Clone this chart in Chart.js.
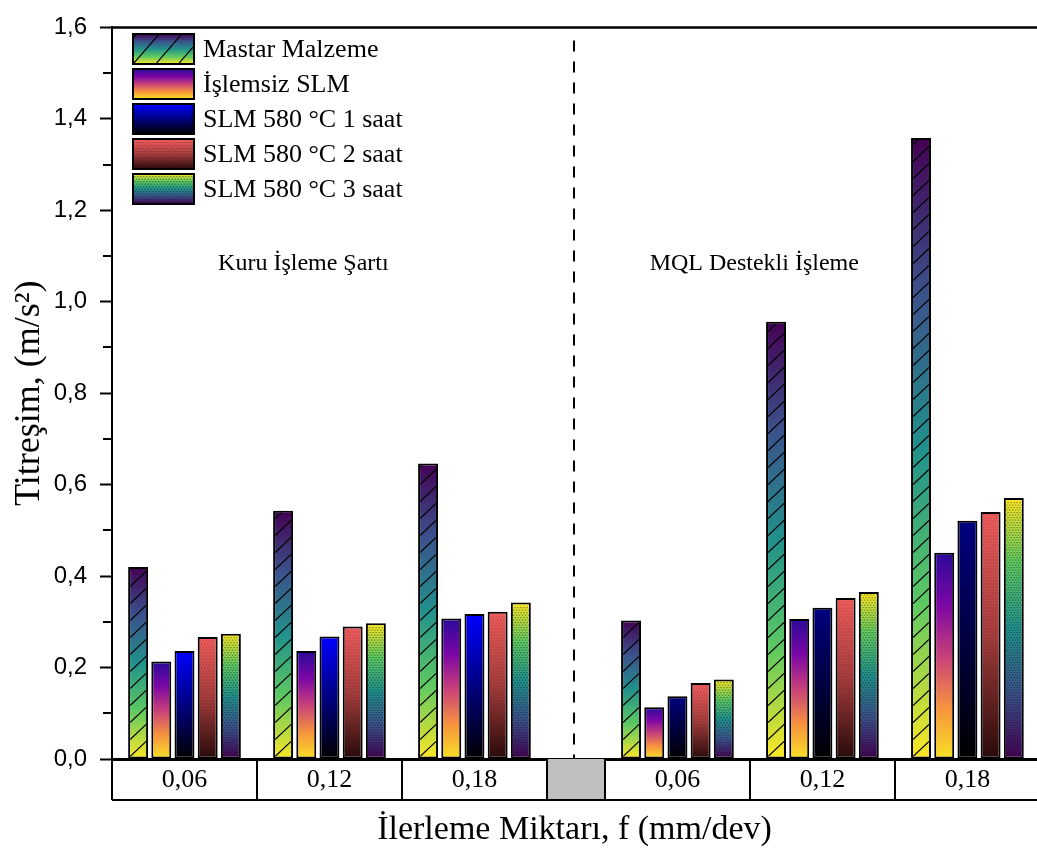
<!DOCTYPE html>
<html lang="tr">
<head>
<meta charset="utf-8">
<title>Titreşim</title>
<script src="https://cdn.jsdelivr.net/npm/chart.js@4.4.1/dist/chart.umd.min.js"></script>
<style>
  html, body { margin: 0; padding: 0; background: #fff; overflow: hidden; }
  canvas { display: block; }
</style>
</head>
<body>
<canvas id="chart" width="1037" height="852"></canvas>
<script>
// --- veriler ---
const feedLabels = ['0,06', '0,12', '0,18', '0,06', '0,12', '0,18'];
const groupPos = [0.5, 1.5, 2.5, 3.9, 4.9, 5.9];   // x positions of the groups (linear axis units)
const gapCell = [3.0, 3.4];                         // grey empty cell between the two conditions
const seriesNames = ['Mastar Malzeme', 'İşlemsiz SLM', 'SLM 580 °C 1 saat', 'SLM 580 °C 2 saat', 'SLM 580 °C 3 saat'];
const mastar   = [0.420, 0.543, 0.646, 0.303, 0.956, 1.358];
const islemsiz = [0.213, 0.236, 0.307, 0.113, 0.306, 0.451];
const slm1     = [0.236, 0.268, 0.317, 0.137, 0.331, 0.521];
const slm2     = [0.267, 0.290, 0.322, 0.166, 0.352, 0.540];
const slm3     = [0.274, 0.297, 0.342, 0.174, 0.365, 0.571];
const sectionTitles = ['Kuru İşleme Şartı', 'MQL Destekli İşleme'];

const allSeries = [mastar, islemsiz, slm1, slm2, slm3];

// --- görünüm ---
const SERIF = '"Liberation Serif", "Times New Roman", serif';
const SANS = '"Liberation Sans", Arial, sans-serif';
const fills = [
  { stops: ['#440154', '#3b528b', '#21918c', '#5ec962', '#fde725'], pattern: 'hatch' },
  { stops: ['#2a0a9a', '#7a06a6', '#c8407a', '#f6923e', '#f9e125'], pattern: null },
  { stops: ['#0000ff', '#000000'], pattern: null },
  { stops: ['#f05c5c', '#a63d3d', '#2a0a0a'], pattern: 'dots' },
  { stops: ['#fde725', '#5ec962', '#21918c', '#3b528b', '#440154'], pattern: 'check' }
];

function makeGradient(ctx, ds, top, bottom, idx) {
  let stops = fills[ds].stops;
  if (ds === 2 && idx >= 3) stops = ['#000080', '#000000'];
  const g = ctx.createLinearGradient(0, top, 0, bottom);
  stops.forEach((s, k) => g.addColorStop(k / (stops.length - 1), s));
  return g;
}

function drawPattern(ctx, kind, l, t, w, h, step, slope) {
  if (!kind) return;
  const b = t + h, r = l + w;
  ctx.save();
  ctx.beginPath();
  ctx.rect(l, t, w, h);
  ctx.clip();
  if (kind === 'hatch') {
    ctx.strokeStyle = '#000';
    ctx.lineWidth = 1.2;
    ctx.beginPath();
    for (let k = Math.ceil(slope * w / step); b + k * step >= t; k--) {
      const c = b + k * step;
      ctx.moveTo(l, c);
      ctx.lineTo(r, c - slope * w);
    }
    ctx.stroke();
  } else if (kind === 'dots') {
    ctx.fillStyle = 'rgba(0,0,0,0.28)';
    let row = 0;
    for (let yy = b - 2; yy > t; yy -= 3, row++) {
      for (let xx = l + (row % 2) * 1.5; xx < r; xx += 3) ctx.fillRect(xx, yy, 1, 1);
    }
  } else if (kind === 'check') {
    ctx.fillStyle = 'rgba(0,0,0,0.38)';
    let row = 0;
    for (let yy = b - 2; yy > t; yy -= 2.5, row++) {
      for (let xx = l + (row % 2) * 1.5; xx < r; xx += 3) ctx.fillRect(xx, yy, 1.5, 1.2);
    }
  }
  ctx.restore();
}

function barFill(ds) {
  return (c) => {
    const chart = c.chart;
    if (!chart.chartArea || c.type !== 'data') return fills[ds].stops[0];
    const y = chart.scales.y;
    return makeGradient(chart.ctx, ds, y.getPixelForValue(c.raw.y), y.getPixelForValue(0), c.dataIndex);
  };
}

const datasets = allSeries.map((vals, ds) => ({
  label: seriesNames[ds],
  data: vals.map((v, i) => ({ x: groupPos[i], y: v })),
  backgroundColor: barFill(ds),
  borderColor: '#000',
  borderWidth: 2,
  borderSkipped: false,
  categoryPercentage: 0.8,
  barPercentage: 0.86
}));

const decorPlugin = {
  id: 'decor',
  afterDatasetsDraw(chart) {
    const ctx = chart.ctx;
    chart.data.datasets.forEach((d, ds) => {
      const kind = fills[ds].pattern;
      if (!kind) return;
      chart.getDatasetMeta(ds).data.forEach(el => {
        const p = el.getProps(['x', 'y', 'base', 'width'], true);
        const l = p.x - p.width / 2 + 2, t = p.y + 2;
        drawPattern(ctx, kind, l, t, p.width - 4, p.base - p.y - 4, 17, 0.95);
      });
    });
  },
  afterDraw(chart) {
    const ctx = chart.ctx;
    const { left, right, top, bottom } = chart.chartArea;
    const xs = chart.scales.x, ys = chart.scales.y;
    const rowBottom = bottom + 41;
    ctx.save();

    // top frame
    ctx.strokeStyle = '#000';
    ctx.lineWidth = 2.5;
    ctx.beginPath();
    ctx.moveTo(left, top); ctx.lineTo(right, top);
    ctx.stroke();

    // minor ticks on y
    ctx.lineWidth = 2;
    ctx.beginPath();
    for (let v = 0.1; v < 1.6; v += 0.2) {
      const py = Math.round(ys.getPixelForValue(v));
      ctx.moveTo(left - 9, py); ctx.lineTo(left, py);
    }
    ctx.stroke();

    // category table under the axis
    const gx0 = xs.getPixelForValue(gapCell[0]), gx1 = xs.getPixelForValue(gapCell[1]);
    ctx.fillStyle = '#c0c0c0';
    ctx.fillRect(gx0, bottom, gx1 - gx0, rowBottom - bottom);
    ctx.lineWidth = 2;
    ctx.beginPath();
    ctx.moveTo(left, rowBottom); ctx.lineTo(right, rowBottom);
    ctx.moveTo(left, bottom); ctx.lineTo(left, rowBottom);
    const bounds = [];
    groupPos.forEach(p => { bounds.push(p - 0.5, p + 0.5); });
    [...new Set(bounds.map(v => v.toFixed(2)))].forEach(v => {
      const px = Math.round(xs.getPixelForValue(+v));
      if (px > left + 1 && px < right - 1) { ctx.moveTo(px, bottom); ctx.lineTo(px, rowBottom); }
    });
    ctx.stroke();

    // dashed divider between conditions
    const dx = Math.round(xs.getPixelForValue((gapCell[0] + gapCell[1]) / 2)) - 2;
    ctx.setLineDash([11, 10]);
    ctx.lineWidth = 2;
    ctx.beginPath();
    ctx.moveTo(dx, top + 13); ctx.lineTo(dx, bottom);
    ctx.stroke();
    ctx.setLineDash([]);

    // condition titles
    ctx.fillStyle = '#000';
    ctx.font = '24px ' + SERIF;
    ctx.textAlign = 'center';
    ctx.textBaseline = 'middle';
    const titleY = ys.getPixelForValue(1.083);
    ctx.fillText(sectionTitles[0], xs.getPixelForValue(1.32), titleY);
    ctx.fillText(sectionTitles[1], xs.getPixelForValue(4.43), titleY);

    // legend
    const lx = 133, ly = 34, sw = 61, sh = 30, pitch = 35;
    ctx.textAlign = 'left';
    ctx.font = '26px ' + SERIF;
    seriesNames.forEach((name, ds) => {
      const y0 = ly + ds * pitch;
      ctx.fillStyle = makeGradient(ctx, ds, y0, y0 + sh, 0);
      ctx.fillRect(lx, y0, sw, sh);
      drawPattern(ctx, fills[ds].pattern, lx + 1, y0 + 1, sw - 2, sh - 2, 26, 1.15);
      ctx.strokeStyle = '#000';
      ctx.lineWidth = 2;
      ctx.strokeRect(lx, y0, sw, sh);
      ctx.fillStyle = '#000';
      ctx.fillText(name, lx + 70, y0 + sh / 2 + 1);
    });
    ctx.restore();
  }
};

new Chart(document.getElementById('chart'), {
  type: 'bar',
  data: { datasets },
  plugins: [decorPlugin],
  options: {
    responsive: false,
    animation: false,
    layout: { padding: { top: 19, left: 0, right: 0, bottom: 0 } },
    plugins: { legend: { display: false }, tooltip: { enabled: false } },
    scales: {
      x: {
        type: 'linear',
        offset: false,
        min: 0,
        max: 6.38,
        afterBuildTicks: (s) => { s.ticks = groupPos.map(v => ({ value: v })); },
        afterFit: (s) => { s.height = 93; },
        grid: { display: false, drawTicks: false, offset: false },
        border: { display: true, color: '#000', width: 3 },
        ticks: {
          autoSkip: false, maxRotation: 0, padding: 6, color: '#000',
          font: { family: SERIF, size: 26 },
          callback: (v, i) => feedLabels[i]
        },
        title: {
          display: true, text: 'İlerleme Miktarı, f (mm/dev)', color: '#000',
          font: { family: SERIF, size: 34, lineHeight: 1.2 },
          padding: { top: 0, bottom: 2 }
        }
      },
      y: {
        min: 0,
        max: 1.6,
        afterFit: (s) => { s.width = 112; },
        grid: { display: true, drawOnChartArea: false, drawTicks: true, tickLength: 12, tickColor: '#000', tickWidth: 2 },
        border: { display: true, color: '#000', width: 2 },
        ticks: {
          stepSize: 0.2, padding: 13, color: '#000',
          font: { family: SANS, size: 24 },
          callback: (v) => v.toFixed(1).replace('.', ',')
        },
        title: {
          display: true, text: 'Titreşim, (m/s²)', color: '#000',
          font: { family: SERIF, size: 36, lineHeight: 1.2 },
          padding: { top: 8, bottom: 0 }
        }
      }
    }
  }
});
</script>
</body>
</html>
